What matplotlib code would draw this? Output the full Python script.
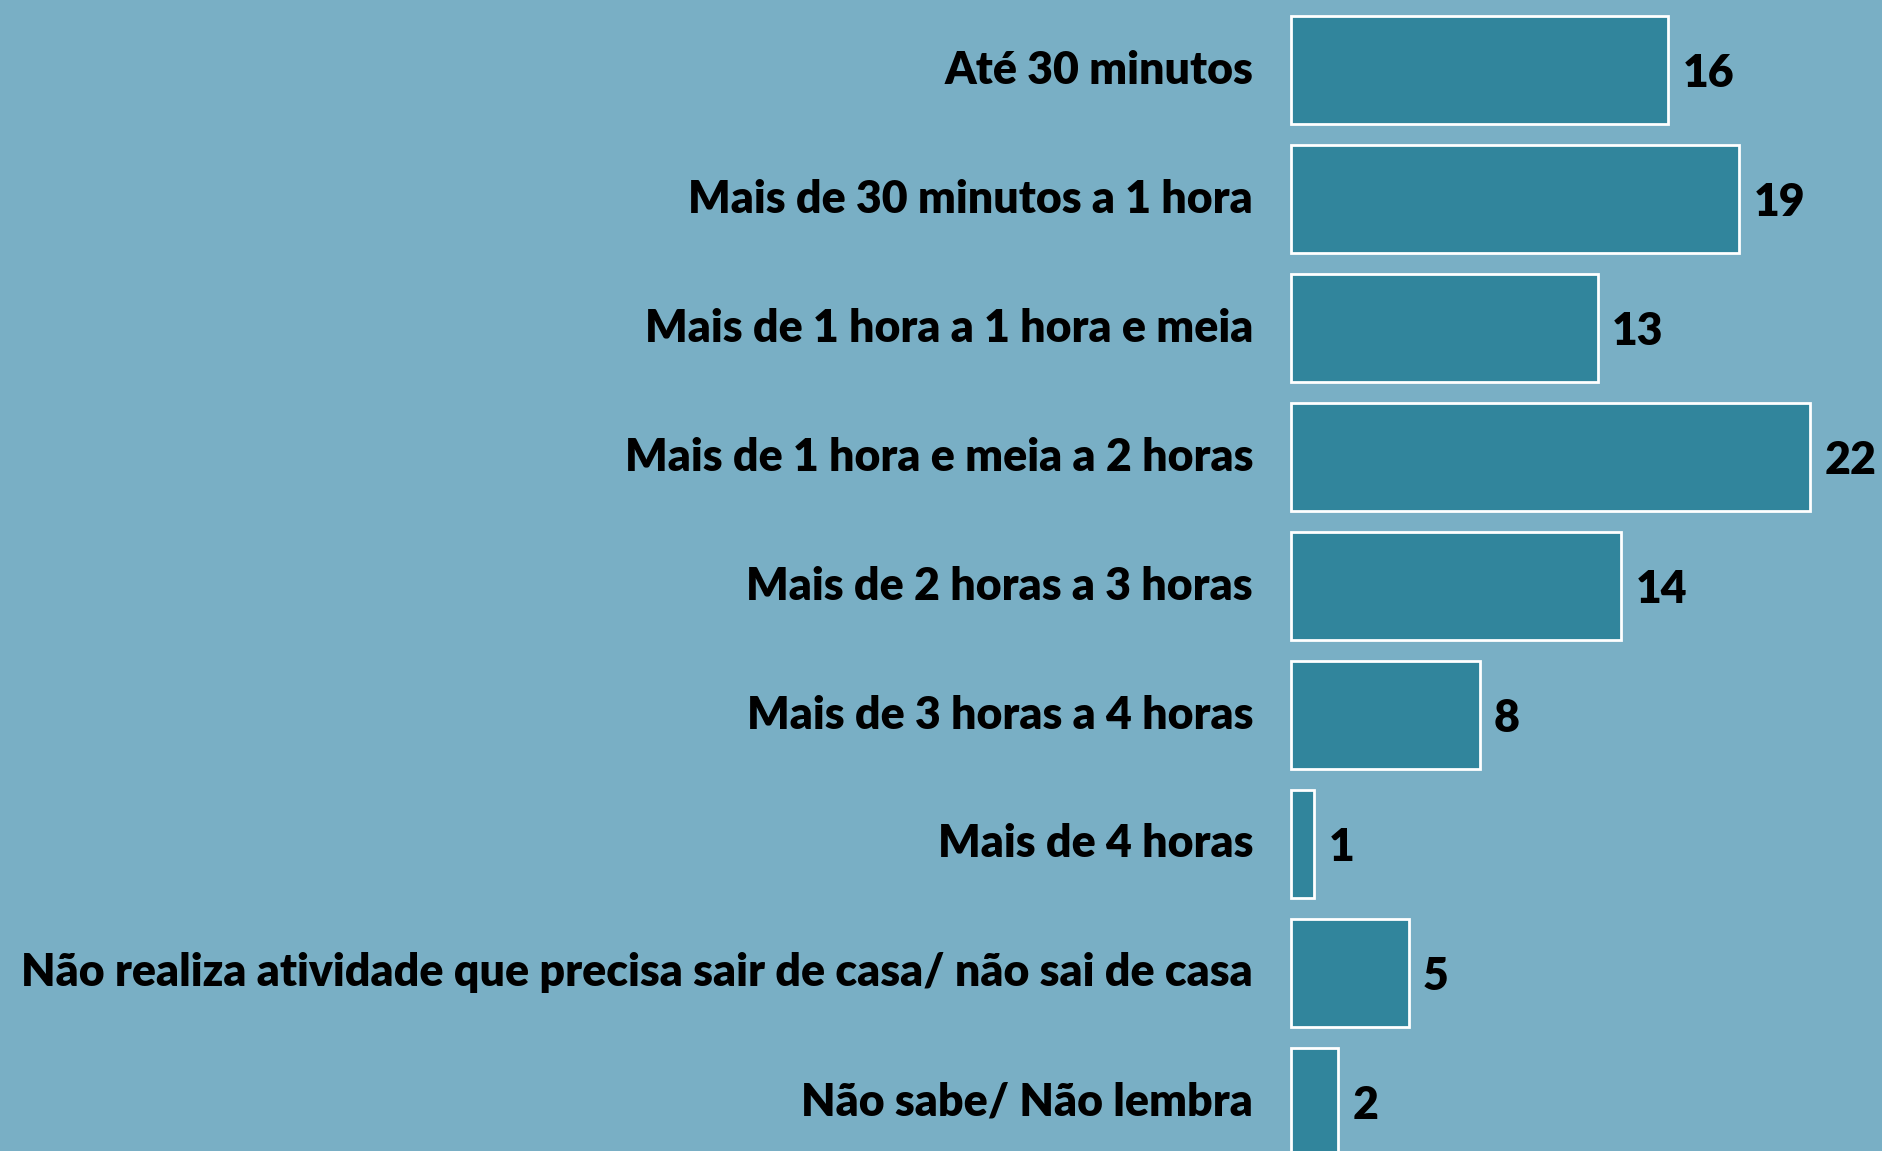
import matplotlib
matplotlib.use("Agg")
import matplotlib.pyplot as plt

categories = [
    "Até 30 minutos",
    "Mais de 30 minutos a 1 hora",
    "Mais de 1 hora a 1 hora e meia",
    "Mais de 1 hora e meia a 2 horas",
    "Mais de 2 horas a 3 horas",
    "Mais de 3 horas a 4 horas",
    "Mais de 4 horas",
    "Não realiza atividade que precisa sair de casa/ não sai de casa",
    "Não sabe/ Não lembra",
]
values = [16, 19, 13, 22, 14, 8, 1, 5, 2]

BG = "#79AFC5"
BAR = "#31859C"

fam = ["Lato", "DejaVu Sans"]
fs = 32.1

fig = plt.figure(figsize=(18.82, 11.51), dpi=100, facecolor=BG)
ax = fig.add_axes([0, 0, 1, 1])
ax.set_facecolor(BG)

y = list(range(len(categories)))
ax.barh(y, values, height=0.84, color=BAR, edgecolor="white", linewidth=2)

for yi, v, c in zip(y, values, categories):
    ax.text(v + 0.6, yi + 0.03, str(v), ha="left", va="center", fontsize=fs,
            fontweight="heavy", family=fam, color="black")
    ax.text(-1.6, yi, c, ha="right", va="center", fontsize=fs,
            fontweight="heavy", family=fam, color="black")

ax.set_xlim(-54.7, 25.05)
ax.set_ylim(8.38, -0.543)
ax.axis("off")

fig.savefig("out.png", dpi=100, facecolor=BG)
